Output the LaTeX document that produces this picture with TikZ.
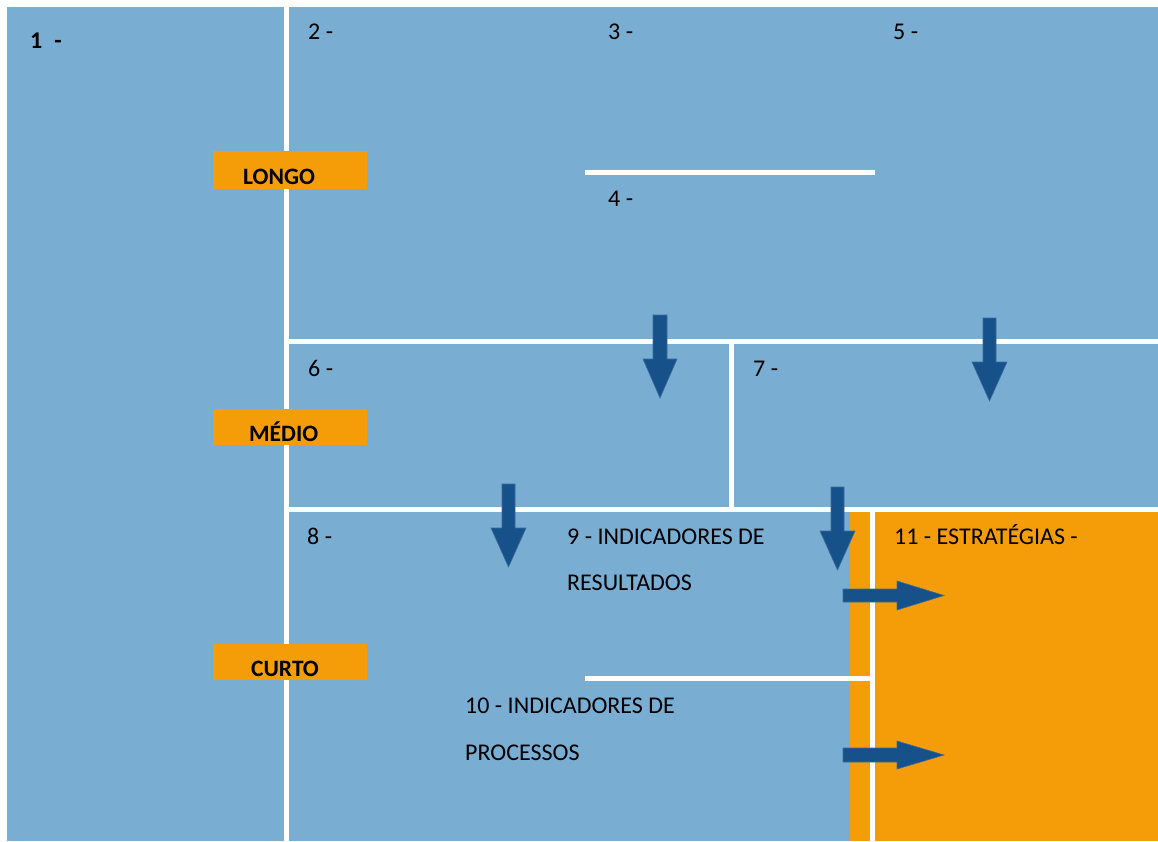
\documentclass[tikz,border=0pt]{standalone}
\usepackage{fontspec}
\setmainfont{Carlito}
\definecolor{bgblue}{HTML}{79ADD1}
\definecolor{lblorange}{HTML}{F49D09}
\definecolor{arrblue}{HTML}{17518A}
\tikzset{
  wline/.style={draw=white, line width=5pt},
  lbl/.style={anchor=base west, inner sep=0pt, text=black, font=\fontsize{24}{28}\selectfont},
  tagbox/.style={fill=lblorange, inner sep=0pt},
  tagtext/.style={anchor=base west, inner sep=0pt, text=black, font=\fontsize{23.5}{28}\selectfont\bfseries},
  blk/.style={fill=arrblue, draw=arrblue!85!white, line width=0.6pt},
}
% vertical block arrow: cx, shaft half, top, head top, head half, tip
\newcommand\vblk[6]{\filldraw[blk] ({#1-#2},#3) -- ({#1+#2},#3) -- ({#1+#2},#4) -- ({#1+#5},#4) -- (#1,#6) -- ({#1-#5},#4) -- ({#1-#2},#4) -- cycle;}
% horizontal block arrow: cy, shaft half, left, head left, head half, tip
\newcommand\hblk[6]{\filldraw[blk] (#3,{#1-#2}) -- (#3,{#1+#2}) -- (#4,{#1+#2}) -- (#4,{#1+#5}) -- (#6,#1) -- (#4,{#1-#5}) -- (#4,{#1-#2}) -- cycle;}
\begin{document}
\begin{tikzpicture}[x=1pt,y=-1pt]
\useasboundingbox (0,0) rectangle (1158,841);
% backgrounds
\fill[bgblue] (7,7) rectangle (1158,841);
\fill[lblorange] (850,512) rectangle (1158,841);
% white separators
\coordinate (vtop) at (286,0);
\coordinate (vbot) at (286,841);
\draw[wline] (vtop) -- (vbot);
\coordinate (h1l) at (286,341);
\coordinate (h1r) at (1158,341);
\draw[wline] (h1l) -- (h1r);
\coordinate (h2l) at (286,509.5);
\coordinate (h2r) at (1158,509.5);
\draw[wline] (h2l) -- (h2r);
\coordinate (h3l) at (585,172.5);
\coordinate (h3r) at (875,172.5);
\draw[wline] (h3l) -- (h3r);
\coordinate (h4l) at (585,678);
\coordinate (h4r) at (872,678);
\draw[wline] (h4l) -- (h4r);
\coordinate (v2t) at (731.5,341);
\coordinate (v2b) at (731.5,509.5);
\draw[wline] (v2t) -- (v2b);
\coordinate (v3t) at (872,509.5);
\coordinate (v3b) at (872,841);
\draw[wline] (v3t) -- (v3b);
% orange tags
\fill[tagbox] (213,151) rectangle (367,189);
\fill[tagbox] (213,409) rectangle (367,445);
\fill[tagbox] (213,644) rectangle (367,680);
\node[tagtext] (longo) at (243,184) {LONGO};
\node[tagtext] (medio) at (249,441) {MÉDIO};
\node[tagtext] (curto) at (251,676) {CURTO};
% labels
\node[lbl, font=\fontsize{24}{28}\selectfont\bfseries] (t1) at (30,48) {1\hspace{0.5em}-};
\node[lbl] (t2) at (308,39) {2 -};
\node[lbl] (t3) at (608,39) {3 -};
\node[lbl] (t5) at (893,39) {5 -};
\node[lbl] (t4) at (608,206) {4 -};
\node[lbl] (t6) at (308,376) {6 -};
\node[lbl] (t7) at (753,376) {7 -};
\node[lbl] (t8) at (307,544) {8 -};
\node[lbl] (t9a) at (567,544) {9 - INDICADORES DE};
\node[lbl] (t9b) at (567,590) {RESULTADOS};
\node[lbl] (t10a) at (465,713) {10 - INDICADORES DE};
\node[lbl] (t10b) at (465,760) {PROCESSOS};
\node[lbl] (t11) at (894,544) {11 - ESTRATÉGIAS -};
% block arrows
\vblk{660}{7}{315}{359}{17}{398}
\vblk{989.5}{6.5}{318}{362}{17.5}{401}
\vblk{508.5}{6.5}{484}{528}{17.5}{567}
\vblk{837.5}{6.5}{487}{531}{17.5}{570}
\hblk{595.5}{6.5}{843}{897}{14.5}{944}
\hblk{755}{7}{843}{897}{14}{944}
\end{tikzpicture}
\end{document}
